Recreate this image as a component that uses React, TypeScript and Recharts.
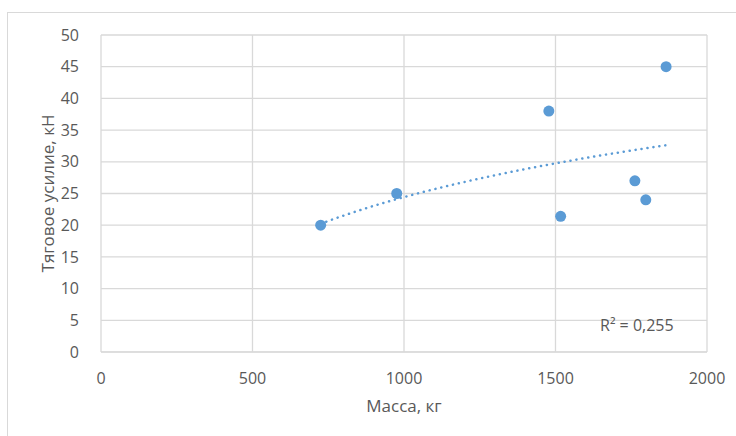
import React from "react";
import { ComposedChart, Scatter, Line, XAxis, YAxis, CartesianGrid, Label } from "recharts";

const massKg = [725, 976, 1478, 1517, 1762, 1798, 1865];
const forceKn = [20, 25, 38, 21.4, 27, 24, 45];
const xTicks = [0, 500, 1000, 1500, 2000];
const yTicks = [0, 5, 10, 15, 20, 25, 30, 35, 40, 45, 50];
const r2Text = "R² = 0,255";

const BLUE = "#5B9BD5";
const GRID = "#d9d9d9";
const TEXT = "#595959";
const FONT = "'Open Sans', 'Noto Sans', sans-serif";

const points = massKg.map((x, i) => ({ x, y: forceKn[i] }));

// logarithmic trendline (least squares on ln x), like Excel
function logFit() {
  const lx = massKg.map((v) => Math.log(v));
  const n = lx.length;
  const mx = lx.reduce((a, b) => a + b, 0) / n;
  const my = forceKn.reduce((a, b) => a + b, 0) / n;
  let sxy = 0;
  let sxx = 0;
  lx.forEach((v, i) => {
    sxy += (v - mx) * (forceKn[i] - my);
    sxx += (v - mx) * (v - mx);
  });
  const a = sxy / sxx;
  const b = my - a * mx;
  const lo = Math.min(...massKg);
  const hi = Math.max(...massKg);
  const steps = 40;
  return Array.from({ length: steps + 1 }, (_, k) => {
    const x = lo + ((hi - lo) * k) / steps;
    return { x, y: a * Math.log(x) + b };
  });
}

const trend = logFit();

const tick = { fill: TEXT, fontSize: 16, fontFamily: FONT };

export default function App() {
  return (
    <div style={{ position: "fixed", left: 0, top: 0, width: 736, height: 436, overflow: "hidden", background: "#fff" }}>
      <div style={{ position: "absolute", left: 7, top: 12, width: 800, height: 500, border: `1px solid ${GRID}` }} />
      <div style={{ position: "absolute", left: 0, top: 0 }}>
        <ComposedChart width={736} height={436} margin={{ top: 35, right: 29, bottom: 54, left: 41 }}>
          <CartesianGrid stroke={GRID} strokeWidth={1.3} />
          <XAxis
            dataKey="x"
            type="number"
            domain={[0, 2000]}
            ticks={xTicks}
            height={30}
            tick={tick}
            tickLine={false}
            axisLine={{ stroke: GRID }}
            tickMargin={15}
          >
            <Label value="Масса, кг" position="bottom" offset={18} style={{ fill: TEXT, fontSize: 17, fontFamily: FONT }} />
          </XAxis>
          <YAxis
            type="number"
            domain={[0, 50]}
            ticks={yTicks}
            width={60}
            tick={tick}
            tickLine={false}
            axisLine={false}
            tickMargin={16}
          >
            <Label
              value="Тяговое усилие, кН"
              angle={-90}
              position="insideLeft"
              offset={7}
              style={{ fill: TEXT, fontSize: 17, fontFamily: FONT, textAnchor: "middle" }}
            />
          </YAxis>
          <Line
            data={trend}
            dataKey="y"
            type="linear"
            stroke={BLUE}
            strokeWidth={2.5}
            strokeDasharray="0.1 5.9"
            strokeLinecap="round"
            dot={false}
            activeDot={false}
            isAnimationActive={false}
          />
          <Scatter
            data={points}
            dataKey="y"
            fill={BLUE}
            isAnimationActive={false}
            shape={(p: any) => <circle cx={p.cx} cy={p.cy} r={5.5} fill={BLUE} />}
          />
        </ComposedChart>
      </div>
      <div style={{ position: "absolute", left: 600, top: 314, color: TEXT, fontSize: 16, fontFamily: FONT, whiteSpace: "nowrap" }}>
        {r2Text}
      </div>
    </div>
  );
}
